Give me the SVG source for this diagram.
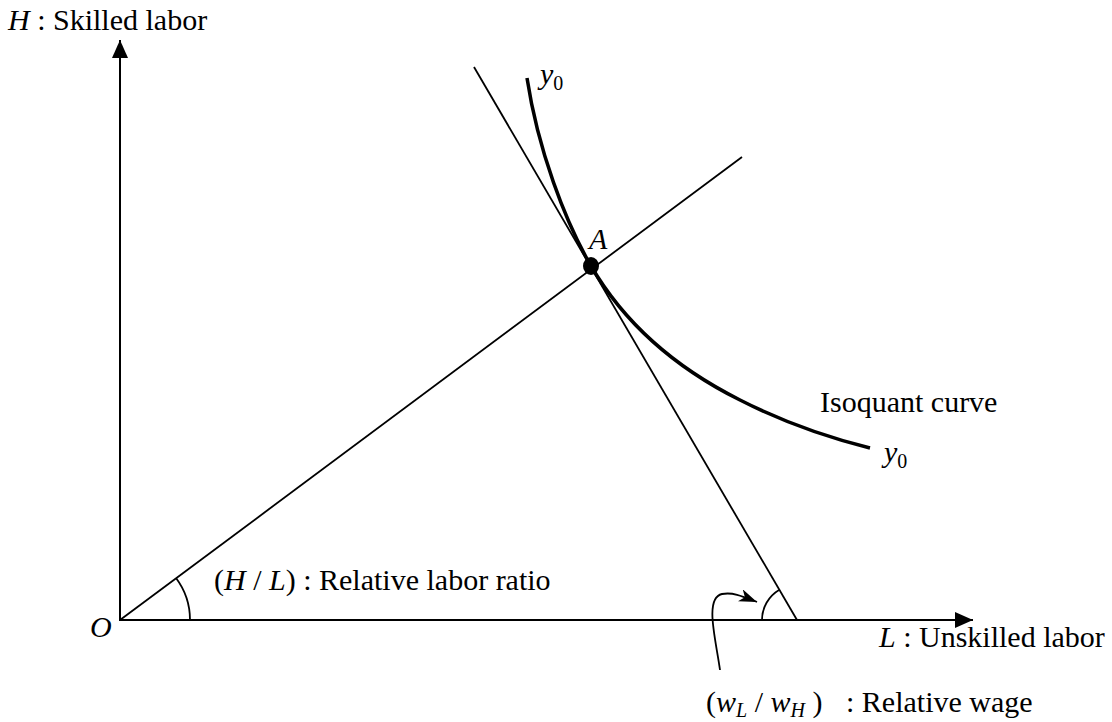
<svg xmlns="http://www.w3.org/2000/svg" width="1112" height="722" viewBox="0 0 1112 722">
<style>
.t{font-family:"Times New Roman","Liberation Serif",serif;font-size:30px;fill:#000}
.i{font-style:italic}
.s{font-size:20px}
.ln{stroke:#000;stroke-width:1.8;fill:none}
.ax{stroke:#000;stroke-width:2;fill:none}
</style>
<defs>
<marker id="big" markerUnits="userSpaceOnUse" viewBox="0 0 18 16" refX="18" refY="8" markerWidth="18" markerHeight="16" orient="auto">
<path d="M0,0 L18,8 L0,16 z" fill="#000"/>
</marker>
<marker id="small" markerUnits="userSpaceOnUse" viewBox="0 0 18 13" refX="18" refY="6.5" markerWidth="18" markerHeight="13" orient="auto">
<path d="M0,0 L18,6.5 L0,13 L5,6.5 z" fill="#000"/>
</marker>
</defs>
<rect width="1112" height="722" fill="#fff"/>
<g id="connectors">
<line class="ax" x1="120" y1="621" x2="120" y2="40" marker-end="url(#big)"/>
<line class="ax" x1="119" y1="620" x2="973" y2="620" marker-end="url(#big)"/>
<line class="ln" x1="120" y1="620" x2="742" y2="157"/>
<line class="ln" x1="474" y1="67" x2="797" y2="620"/>
<path d="M527,78 C538,150 565,221 591,266 C626,326 680,370 740,400 C785,423 830,438 870,448" stroke="#000" stroke-width="3.5" fill="none"/>
<path class="ln" d="M176,578 A70,70 0 0 1 190,620"/>
<path class="ln" d="M762,620 A35,35 0 0 1 779,590"/>
<path class="ln" d="M720,670 C716,640 704,598 722,594 C733,592 742,596 757,602" marker-end="url(#small)"/>
</g>
<g id="pointA">
<ellipse cx="591" cy="266" rx="8" ry="9" fill="#000"/>
<text class="t i" x="589" y="249">A</text>
</g>
<g id="labels">
<text class="t" x="8" y="30"><tspan class="i">H</tspan> : Skilled labor</text>
<text class="t i" x="540" y="84">y<tspan class="s" font-style="normal" dy="6">0</tspan></text>
<text class="t" x="820" y="412">Isoquant curve</text>
<text class="t i" x="884" y="462">y<tspan class="s" font-style="normal" dy="6">0</tspan></text>
<text class="t" x="214" y="590">(<tspan class="i">H</tspan> / <tspan class="i">L</tspan>) : Relative labor ratio</text>
<text class="t i" x="90" y="637">O</text>
<text class="t" x="879" y="647"><tspan class="i">L</tspan> : Unskilled labor</text>
<text class="t" x="706" y="712">(<tspan class="i">w</tspan><tspan class="i s" dy="5">L</tspan><tspan dy="-5"> / </tspan><tspan class="i">w</tspan><tspan class="i s" dy="5">H</tspan><tspan dy="-5"> )</tspan></text>
<text class="t" x="846" y="712">: Relative wage</text>
</g>
</svg>
